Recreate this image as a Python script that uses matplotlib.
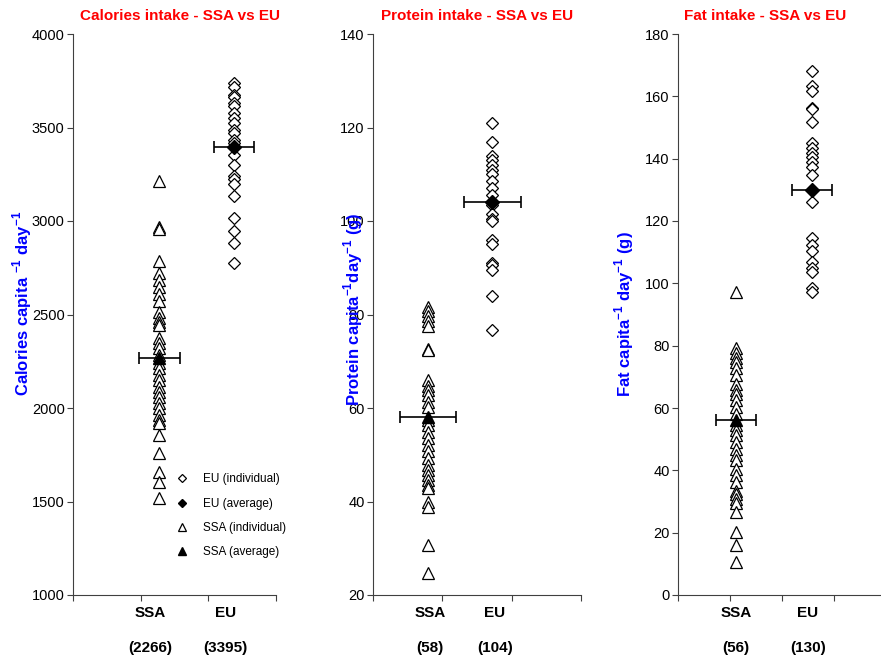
"""
Calories, protein and fat intake: SSA vs EU countries
"""

import numpy as np
import matplotlib
matplotlib.use('Agg')
import matplotlib.pyplot as plt
from matplotlib.lines import Line2D

plt.rcParams['font.family'] = ['Liberation Sans', 'DejaVu Sans']
plt.rcParams['mathtext.fontset'] = 'custom'
plt.rcParams['mathtext.rm'] = 'Liberation Sans'
plt.rcParams['mathtext.bf'] = 'Liberation Sans:bold'

# calories (kcal capita-1 day-1)
cal_ssa = [3215, 2970, 2955, 2788, 2720, 2684, 2649, 2610, 2572, 2515, 2480,
           2461, 2444, 2372, 2346, 2319, 2283, 2239, 2212, 2176, 2150, 2114,
           2087, 2060, 2025, 1998, 1962, 1936, 1918, 1855, 1757, 1659, 1606,
           1517]
cal_eu = [3740, 3715, 3674, 3661, 3629, 3615, 3579, 3549, 3522, 3487, 3469,
          3433, 3415, 3353, 3299, 3241, 3223, 3198, 3134, 3014, 2948, 2880,
          2774]
cal_avg = [2266, 3395]

# protein (g capita-1 day-1)
prot_ssa = [81.7, 80.8, 79.7, 78.7, 77.6, 72.7, 72.3, 65.9, 64.8, 63.8, 62.7,
            61.3, 60.2, 57.4, 56.3, 54.9, 53.5, 52.1, 50.7, 49.2, 47.8, 46.7,
            45.7, 44.6, 43.5, 42.8, 40.0, 38.9, 30.7, 24.7]
prot_eu = [121.0, 117.0, 114.0, 113.0, 112.0, 111.0, 110.0, 108.5, 107.0,
           105.5, 103.5, 101.5, 100.5, 100.0, 96.0, 95.0, 91.0, 90.5, 89.5,
           84.0, 76.7]
prot_avg = [58, 104]

# fat (g capita-1 day-1)
fat_ssa = [97.1, 79.1, 77.8, 76.2, 74.6, 72.9, 70.7, 67.8, 65.7, 64.6, 62.5,
           60.3, 58.2, 54.4, 52.8, 51.2, 49.1, 46.9, 44.8, 43.2, 40.5, 38.4,
           36.2, 33.5, 32.5, 30.9, 29.6, 26.6, 20.2, 15.9, 10.5]
fat_eu = [168.0, 163.2, 161.6, 156.4, 156.0, 151.7, 145.0, 143.4, 141.8,
          140.4, 138.9, 137.2, 134.6, 126.2, 114.4, 112.3, 110.4, 106.7, 105.0,
          103.5, 98.6, 97.3]
fat_avg = [56, 130]

groups = ['SSA', 'EU']


def panel(fig, rect, ssa, eu, avg, xpos, xerr, lblpos, ylim, yticks, nx,
          title, title_x, ylabel, ylabel_xy):
    ax = fig.add_axes(rect)

    ax.plot([xpos[0]] * len(ssa), ssa, ls='none', marker='^', ms=8,
            mfc='white', mec='black', mew=0.9)
    ax.plot([xpos[1]] * len(eu), eu, ls='none', marker='D', ms=6,
            mfc='white', mec='black', mew=0.9)

    ax.errorbar(xpos[1], avg[1], xerr=xerr[1], fmt='D', ms=7, color='black',
                elinewidth=1.2, capsize=4, capthick=1.2)
    ax.errorbar(xpos[0], avg[0], xerr=xerr[0], fmt='^', ms=9, color='black',
                elinewidth=1.2, capsize=4, capthick=1.2)

    ax.set_xlim(0, nx)
    ax.set_ylim(*ylim)
    ax.set_xticks(np.arange(0, nx + 1))
    ax.set_xticklabels([])
    ax.set_yticks(yticks)
    ax.tick_params(axis='y', direction='out', length=4, labelsize=10.5,
                   pad=2, color='#404040')
    ax.tick_params(axis='x', direction='out', length=4, color='#404040')
    for side in ['top', 'right']:
        ax.spines[side].set_visible(False)
    for side in ['left', 'bottom']:
        ax.spines[side].set_color('#404040')

    for x, g, a in zip(lblpos, groups, avg):
        ax.text(x, -0.032, g, transform=ax.get_xaxis_transform(),
                ha='center', va='center', fontsize=11, fontweight='bold')
        ax.text(x, -0.094, '({})'.format(a),
                transform=ax.get_xaxis_transform(),
                ha='center', va='center', fontsize=11, fontweight='bold')

    fig.text(title_x / 881, 1 - 16 / 662, title, ha='center', va='center',
             color='#FF0000', fontsize=11, fontweight='bold')

    ax.set_ylabel(ylabel, color='#0000FF', fontsize=12, fontweight='bold')
    ax.yaxis.set_label_coords(*ylabel_xy)
    return ax


fig = plt.figure(figsize=(8.81, 6.62), dpi=100)

H = 662.0
W = 881.0
bottom = (H - 595) / H
height = 561 / H

ax1 = panel(fig, [73 / W, bottom, 203 / W, height], cal_ssa, cal_eu, cal_avg,
            xpos=[1.275, 2.38], xerr=[0.30, 0.30], lblpos=[1.14, 2.25],
            ylim=(1000, 4000), yticks=np.arange(1000, 4001, 500), nx=3,
            title='Calories intake - SSA vs EU', title_x=180,
            ylabel=r'Calories capita $^{\mathbf{-1}}$ day$^{\mathbf{-1}}$',
            ylabel_xy=(-0.19, 0.52))

ax2 = panel(fig, [373 / W, bottom, 208 / W, height], prot_ssa, prot_eu,
            prot_avg, xpos=[0.79, 1.72], xerr=[0.40, 0.41],
            lblpos=[0.82, 1.76], ylim=(20, 140),
            yticks=np.arange(20, 141, 20), nx=3,
            title='Protein intake - SSA vs EU', title_x=477,
            ylabel=r'Protein capita$^{\mathbf{-1}}$day$^{\mathbf{-1}}$ (g)',
            ylabel_xy=(-0.04, 0.51))

ax3 = panel(fig, [678 / W, bottom, 208 / W, height], fat_ssa, fat_eu,
            fat_avg, xpos=[1.115, 2.58], xerr=[0.39, 0.385],
            lblpos=[1.115, 2.5], ylim=(0, 180),
            yticks=np.arange(0, 181, 20), nx=4,
            title='Fat intake - SSA vs EU', title_x=765,
            ylabel=r'Fat capita$^{\mathbf{-1}}$ day$^{\mathbf{-1}}$ (g)',
            ylabel_xy=(-0.2, 0.5))

# legend in the calories panel (markers only, no error bars)
leg_labels = ['EU (individual)', 'EU (average)', 'SSA (individual)',
              'SSA (average)']
leg_handles = [
    Line2D([], [], ls='none', marker='D', ms=4.5, mfc='white', mec='black',
           mew=0.9),
    Line2D([], [], ls='none', marker='D', ms=4.5, color='black'),
    Line2D([], [], ls='none', marker='^', ms=6, mfc='white', mec='black',
           mew=0.9),
    Line2D([], [], ls='none', marker='^', ms=6, color='black'),
]
ax1.legend(leg_handles, leg_labels, loc='upper left',
           bbox_to_anchor=(0.507, 0.217), frameon=False, fontsize=8.5,
           handlelength=1, handletextpad=1.3, labelspacing=1.05,
           borderpad=0, borderaxespad=0)

fig.savefig('out.png', dpi=100)
